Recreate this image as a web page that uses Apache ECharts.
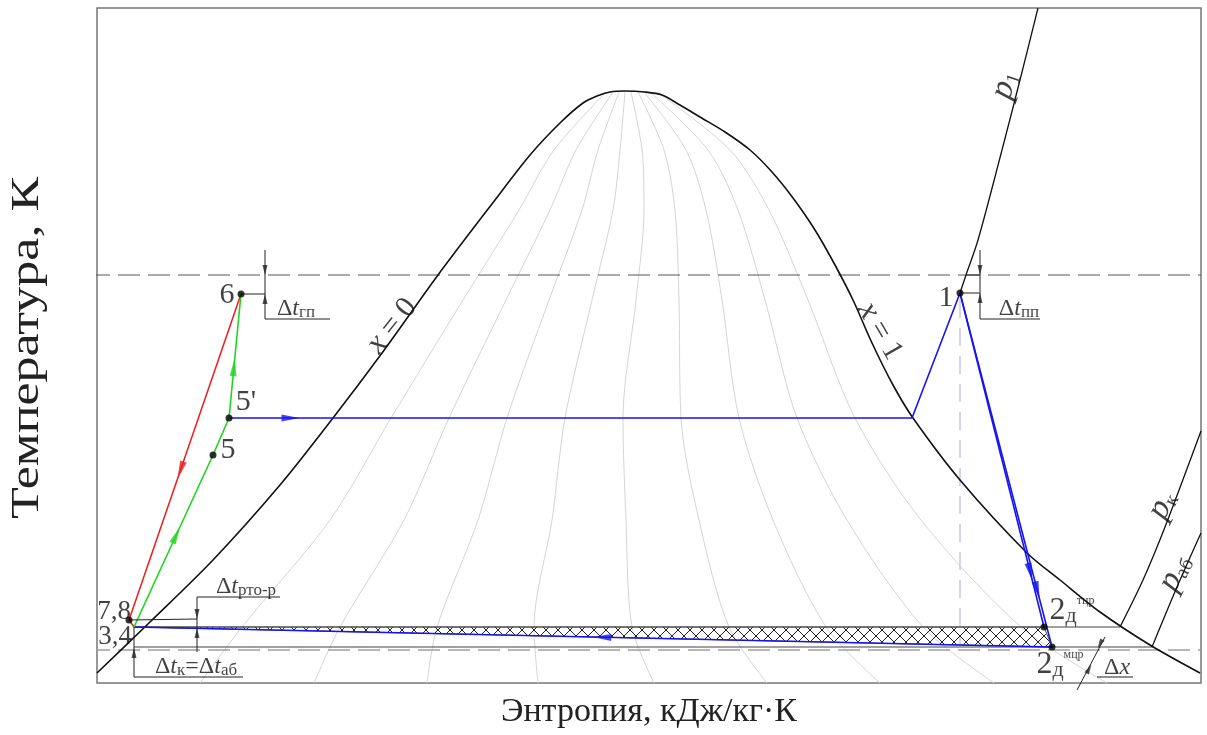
<!DOCTYPE html>
<html lang="ru">
<head>
<meta charset="UTF-8"/>
<title>T-s диаграмма</title>
<script src="https://cdn.jsdelivr.net/npm/echarts@6/dist/echarts.min.js"></script>
<style>html,body{margin:0;background:#fff}</style>
</head>
<body>
<div id="main" style="width:1207px;height:735px"></div>
<script type="text/javascript">
// all values are [s, T] in arbitrary chart units (schematic diagram, no numeric scale)

// saturation dome: x = 0 branch, critical point, x = 1 branch
var domeCurve = [[0,10],[53,61],[116,123],[183,198],[236,265],[288,334],[341,408],[398,483],[433,528],
    [463,560],[486,580],[500,587],[513,591],[528,592],[548,591],[565,588],[583,578],[603,566],[628,551],
    [653,533],[675,511],[696,485],[718,453],[738,418],[756,383],[775,340],[796,298],[816,265],[863,203],
    [930,130],[963,103],[1003,71],[1053,38],[1103,10]];

// constant dryness lines x = 0.1 ... 0.9 (read at T = 591, 533, 473, 383, 265, 163, 56, 0)
var qualityT = [591, 533, 473, 383, 265, 163, 56, 0];
var qualityS = [
    [509,457,422,366,294,233,145,103],
    [516,479,453,409,352,307,243,217],
    [522,501,485,452,410,381,340,330],
    [528,523,516,495,468,455,437,441],
    [534,545,547,539,526,529,535,557],
    [541,567,578,582,584,602,632,670],
    [547,589,609,625,642,676,729,783],
    [553,611,641,668,700,750,826,897],
    [560,633,672,711,758,824,924,1010]
];

// isobars
var p1Line = [[941,675],[923,603],[905,533],[881,443],[869,408],[863,390]];
var pkLine = [[1104,252],[1068,156],[1046,103],[1023,56]];
var pabLine = [[1104,150],[1080,96],[1055,36]];

// state points
var P1 = [863,390];
var P2t = [947,56];     // 2д тцр
var P2m = [955,36];     // 2д мцр
var P34 = [37,56];
var P5 = [116,228];
var P5p = [132,265];
var P6 = [144,389];
var P78 = [32,63];
var Psat = [815,265];

// temperature levels
var Tgr = 408;
var Tohl = 33;
var Tcond = 36;

var blueA = [P5p, Psat, P1];
var blueB = [P1, P2t];
var blueC = [P1, P2m, P34];
var redPath = [P6, P78, P34];
var greenPath = [P34, P5, P5p, P6];
var hatchArea = [P34, P2t, P2m];
var statePoints = [P6, P5, P5p, P78, P1, P2t, P2m];

var FONT = "'Liberation Serif','Times New Roman',serif";

function lineSeries(data, color, width, dash, smooth, z) {
    return {
        type: 'line', data: data, symbol: 'none', smooth: smooth || false, clip: false, silent: true,
        lineStyle: {color: color, width: width, type: dash || 'solid'}, z: z || 2, animation: false
    };
}

function arrowOn(a, b, f) {
    var s = a[0] + (b[0] - a[0]) * f, t = a[1] + (b[1] - a[1]) * f;
    var ang = Math.atan2(b[1] - a[1], b[0] - a[0]) * 180 / Math.PI - 90;
    return {value: [s, t], symbolRotate: ang};
}

var series = [];

// dryness lines
for (var i = 0; i < qualityS.length; i++) {
    var q = [];
    for (var j = 0; j < qualityT.length; j++) q.push([qualityS[i][j], qualityT[j]]);
    series.push(lineSeries(q, '#d4d4d4', 1, 'solid', 0.3, 1));
}

series.push(lineSeries(domeCurve, '#111', 1.6, 'solid', 0.3, 3));
series.push(lineSeries(p1Line, '#111', 1.3, 'solid', 0.3, 3));
series.push(lineSeries(pkLine, '#111', 1.3, 'solid', 0.3, 3));
series.push(lineSeries(pabLine, '#111', 1.3, 'solid', 0.3, 3));

// reference temperatures
series.push(lineSeries([[-9, Tgr], [1104, Tgr]], '#555', 1, [22, 8]));
series.push(lineSeries([[-9, Tohl], [1104, Tohl]], '#a0a0a0', 1.3, [22, 8]));
series.push(lineSeries([[P1[0], P1[1] - 7], [P1[0], P2m[1] + 2]], '#c8c8ee', 1.5, [18, 10], false, 1));

// hatched loss area
var hatchCanvas = document.createElement('canvas');
hatchCanvas.width = 12; hatchCanvas.height = 12;
var hc = hatchCanvas.getContext('2d');
hc.strokeStyle = '#222'; hc.lineWidth = 1;
hc.beginPath(); hc.moveTo(0, 0); hc.lineTo(12, 12); hc.moveTo(12, 0); hc.lineTo(0, 12); hc.stroke();
series.push({
    type: 'custom', data: hatchArea, silent: true, z: 2, animation: false,
    renderItem: function (params, api) {
        if (params.dataIndex !== 0) return null;
        var pts = hatchArea.map(function (p) { return api.coord(p); });
        return {type: 'polygon', shape: {points: pts},
            style: {fill: {image: hatchCanvas, repeat: 'repeat'}, stroke: '#555', lineWidth: 1}};
    }
});

// horizontal guide lines at the bottom
series.push(lineSeries([P34, [1023, P34[1]]], '#444', 1.2));
series.push(lineSeries([[P34[0], Tcond], [1056, Tcond]], '#444', 1.2));

// process lines
series.push(lineSeries(blueA, '#1515f0', 1.6, 'solid', false, 4));
series.push(lineSeries(blueB, '#1515f0', 1.6, 'solid', false, 4));
series.push(lineSeries(blueC, '#1515f0', 1.6, 'solid', false, 4));
series.push(lineSeries(redPath, '#ee1c1c', 1.5, 'solid', false, 4));
series.push(lineSeries(greenPath, '#1fd51f', 1.6, 'solid', false, 4));

// dimension lines
var dims = [
    [P6, [168, 389]], [[168, 433], [168, 364]], [[168, 364], [233, 364]],
    [P1, [883, 390]], [[869, 408], [883, 408]], [[883, 433], [883, 364]], [[883, 364], [943, 364]],
    [P78, [100, 64]], [[100, 86], [100, 31]], [[100, 86], [183, 86]],
    [[37, 56], [37, 6]], [[37, 6], [146, 6]],
    [[980, -7], [1008, 46]], [[1000, 6], [1036, 6]]
];
dims.forEach(function (d) { series.push(lineSeries(d, '#222', 1, 'solid', false, 5)); });

// arrows on the process lines
series.push({
    type: 'scatter', symbol: 'triangle', symbolSize: [7, 18], silent: true, z: 6, animation: false,
    itemStyle: {color: '#1515f0'},
    data: [arrowOn(P5p, Psat, 0.09), arrowOn(P2m, P34, 0.49), arrowOn(P1, P2t, 0.835), arrowOn(P1, P2m, 0.84)]
});
series.push({
    type: 'scatter', symbol: 'triangle', symbolSize: [7, 18], silent: true, z: 6, animation: false,
    itemStyle: {color: '#ee1c1c'}, data: [arrowOn(P6, P78, 0.54)]
});
series.push({
    type: 'scatter', symbol: 'triangle', symbolSize: [7, 18], silent: true, z: 6, animation: false,
    itemStyle: {color: '#1fd51f'}, data: [arrowOn(P34, P5, 0.535), arrowOn(P5p, P6, 0.41)]
});
// dimension arrowheads
series.push({
    type: 'scatter', symbol: 'triangle', symbolSize: [5, 10], silent: true, z: 6, animation: false,
    itemStyle: {color: '#222'},
    data: [
        {value: [168, 413], symbolRotate: 180}, {value: [168, 384], symbolRotate: 0},
        {value: [883, 413], symbolRotate: 180}, {value: [883, 385], symbolRotate: 0},
        {value: [100, 69], symbolRotate: 180}, {value: [100, 50], symbolRotate: 0},
        {value: [37, 30], symbolRotate: 0},
        {value: [992, 14], symbolRotate: -28}, {value: [1003, 39], symbolRotate: 152}
    ]
});

// state points
series.push({
    type: 'scatter', symbol: 'circle', symbolSize: 7, silent: true, z: 7, animation: false,
    itemStyle: {color: '#000'}, data: statePoints
});

// text labels
var labels = [
    {name: '{n|6}', value: [130, 388]},
    {name: "{n|5'}", value: [149, 281]},
    {name: '{n|5}', value: [131, 233]},
    {name: '{m|7,8}', value: [17, 71]},
    {name: '{m|3,4}', value: [18, 46]},
    {name: '{n|1}', value: [849, 385]},
    {name: '{T|T}{s|гр}', value: [-27, 395]},
    {name: '{T|T}{s|охл}', value: [-34, 29]},
    {name: '{d|Δ}{t|t}{ds|гп}', value: [199, 374]},
    {name: '{d|Δ}{t|t}{ds|пп}', value: [922, 374]},
    {name: '{d|Δ}{t|t}{ds|рто-р}', value: [149, 96]},
    {name: '{d|Δ}{t|t}{ds|к}{d|=Δ}{t|t}{ds|аб}', value: [99, 16]},
    {name: '{two|2}{dd|д}{sup|тцр}', value: [975, 72]},
    {name: '{two|2}{dd|д}{sup|мцр}', value: [963, 18]},
    {name: '{d|Δ}{t|x}', value: [1020, 15]},
    {name: '{x|x}{n| = 0}', value: [295, 357], label: {rotate: 51}},
    {name: '{x|x}{n| = 1}', value: [783, 352], label: {rotate: -60}},
    {name: '{p|p}{ps|1}', value: [908, 598], label: {rotate: 72}},
    {name: '{p|p}{ps|к}', value: [1065, 178], label: {rotate: 63}},
    {name: '{p|p}{ps|аб}', value: [1078, 110], label: {rotate: 63}}
];

function rs(size, extra) {
    var o = {fontFamily: FONT, fontSize: size, color: '#111'};
    for (var k in extra) o[k] = extra[k];
    return o;
}

series.push({
    type: 'scatter', symbolSize: 0, silent: true, z: 8, animation: false, data: labels,
    label: {
        show: true, position: 'inside', align: 'center', verticalAlign: 'middle',
        formatter: function (p) { return p.name; },
        rich: {
            n: rs(30),
            m: rs(27),
            T: rs(34, {fontStyle: 'italic'}),
            s: rs(22, {verticalAlign: 'bottom'}),
            d: rs(24),
            t: rs(24, {fontStyle: 'italic'}),
            ds: rs(17, {verticalAlign: 'bottom'}),
            two: rs(32),
            dd: rs(22, {verticalAlign: 'bottom'}),
            sup: rs(12, {verticalAlign: 'top'}),
            x: rs(32, {fontStyle: 'italic'}),
            p: rs(34, {fontStyle: 'italic'}),
            ps: rs(20, {verticalAlign: 'bottom'})
        }
    }
});

var myChart = echarts.init(document.getElementById('main'));
myChart.setOption({
    animation: false,
    grid: {left: 97, right: 6, top: 8, bottom: 52, show: true, borderColor: '#777', borderWidth: 1.5,
        containLabel: false, outerBoundsMode: 'none'},
    xAxis: {
        type: 'value', min: 0, max: 1104,
        axisLine: {show: false}, axisTick: {show: false}, axisLabel: {show: false}, splitLine: {show: false},
        name: 'Энтропия, кДж/кг·К', nameLocation: 'middle', nameGap: 12,
        nameTextStyle: {fontFamily: FONT, fontSize: 34, color: '#222'}
    },
    yAxis: {
        type: 'value', min: 0, max: 675,
        axisLine: {show: false}, axisTick: {show: false}, axisLabel: {show: false}, splitLine: {show: false}
    },
    graphic: [{
        type: 'text', x: 27, y: 348, rotation: Math.PI / 2, scaleX: 1.3, silent: true,
        style: {text: 'Температура, К', font: '40px ' + FONT, fill: '#222', align: 'center', verticalAlign: 'middle'}
    }],
    series: series
});
</script>
</body>
</html>
